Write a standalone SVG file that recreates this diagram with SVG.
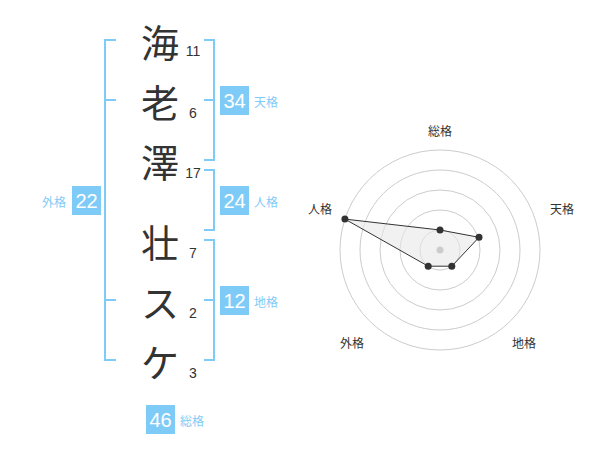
<svg xmlns="http://www.w3.org/2000/svg" width="600" height="470" viewBox="0 0 600 470">
<style>
.ch{font-family:"Noto Sans CJK JP","Noto Sans CJK SC",sans-serif;font-size:38px;fill:#333;text-anchor:middle;dominant-baseline:central}
.num{font-family:"Liberation Sans",Arial,sans-serif;font-size:14px;fill:#333;text-anchor:middle;dominant-baseline:central}
.box{fill:#7fcbf7}
.bn{font-family:"Liberation Sans",Arial,sans-serif;font-size:20px;fill:#fff;text-anchor:middle;dominant-baseline:central}
.lb{font-family:"Noto Sans CJK JP","Noto Sans CJK SC",sans-serif;font-size:12px;fill:#7fcbf7;dominant-baseline:central}
.br{fill:none;stroke:#7fcbf7;stroke-width:2}
.ring{fill:none;stroke:#ccc;stroke-width:1}
.rl{font-family:"Noto Sans CJK JP","Noto Sans CJK SC",sans-serif;font-size:12px;fill:#333;text-anchor:middle;dominant-baseline:central}
.pt{fill:#333}
</style>
<g id="connectors">
<path class="br" d="M116,40 H105 V360 H116 M105,100 H116 M105,300 H116"/>
<path class="br" d="M204,40 H214 V160 H204 M204,100 H214"/>
<path class="br" d="M204,170 H214 V230 H204"/>
<path class="br" d="M204,240 H214 V360 H204 M204,300 H214"/>
</g>
<g id="char-1"><text class="ch" x="160" y="40">海</text><text class="num" x="193" y="51">11</text></g>
<g id="char-2"><text class="ch" x="160" y="100">老</text><text class="num" x="193" y="113">6</text></g>
<g id="char-3"><text class="ch" x="160" y="160">澤</text><text class="num" x="193" y="173">17</text></g>
<g id="char-4"><text class="ch" x="160" y="240">壮</text><text class="num" x="193" y="253">7</text></g>
<g id="char-5"><text class="ch" x="160" y="300">ス</text><text class="num" x="193" y="313">2</text></g>
<g id="char-6"><text class="ch" x="160" y="360">ケ</text><text class="num" x="193" y="373">3</text></g>
<g id="tenkaku"><rect class="box" x="220" y="86" width="29" height="29"/><text class="bn" x="234.5" y="101">34</text><text class="lb" x="254" y="101">天格</text></g>
<g id="jinkaku"><rect class="box" x="220" y="186" width="29" height="29"/><text class="bn" x="234.5" y="201">24</text><text class="lb" x="254" y="201">人格</text></g>
<g id="chikaku"><rect class="box" x="220" y="286" width="29" height="29"/><text class="bn" x="234.5" y="301">12</text><text class="lb" x="254" y="301">地格</text></g>
<g id="gaikaku"><rect class="box" x="72" y="186" width="29" height="29"/><text class="bn" x="86.5" y="201">22</text><text class="lb" x="66" y="201" text-anchor="end">外格</text></g>
<g id="soukaku"><rect class="box" x="146" y="405" width="29" height="29"/><text class="bn" x="160.5" y="420">46</text><text class="lb" x="180" y="420">総格</text></g>
<g id="radar">
<circle class="ring" cx="440" cy="250" r="20"/>
<circle class="ring" cx="440" cy="250" r="40"/>
<circle class="ring" cx="440" cy="250" r="60"/>
<circle class="ring" cx="440" cy="250" r="80"/>
<circle class="ring" cx="440" cy="250" r="100"/>
<polygon points="440,230 479,237.3 451.8,266.2 428.2,266.2 344.9,219.1" fill="#e8e8e8" fill-opacity="0.6" stroke="#333" stroke-width="1"/>
<circle cx="440" cy="250" r="3.5" fill="#ccc"/>
<circle class="pt" cx="440" cy="230" r="3.5"/>
<circle class="pt" cx="479" cy="237.3" r="3.5"/>
<circle class="pt" cx="451.8" cy="266.2" r="3.5"/>
<circle class="pt" cx="428.2" cy="266.2" r="3.5"/>
<circle class="pt" cx="344.9" cy="219.1" r="3.5"/>
<text class="rl" x="440" y="130">総格</text>
<text class="rl" x="562" y="208">天格</text>
<text class="rl" x="320" y="208">人格</text>
<text class="rl" x="352" y="342">外格</text>
<text class="rl" x="524" y="342">地格</text>
</g>
</svg>
